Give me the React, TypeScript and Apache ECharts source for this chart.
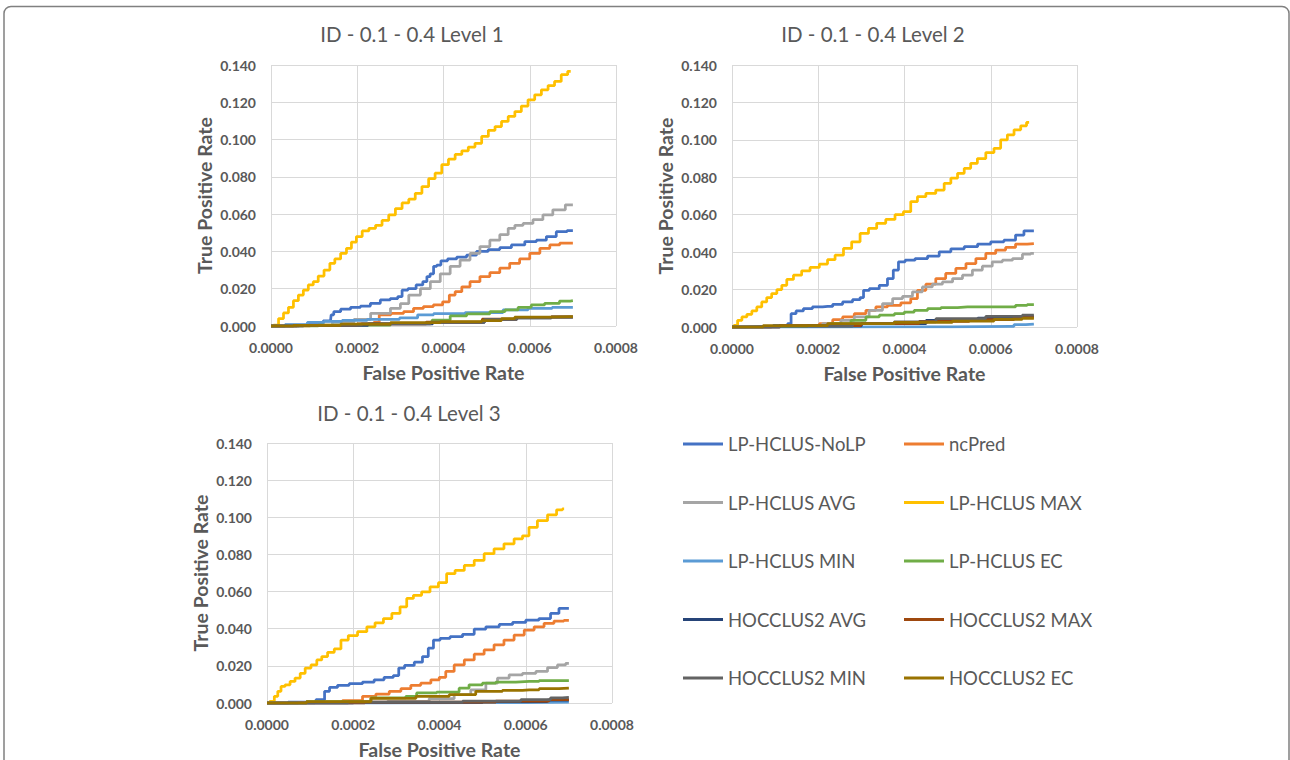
import React, { useEffect, useRef } from "react";
import * as echarts from "echarts";

// False positive rate values are stored in units of 1e-4
const FPR_UNIT = 1e-4;

const SERIES_NAMES = [
  "LP-HCLUS-NoLP",
  "ncPred",
  "LP-HCLUS AVG",
  "LP-HCLUS MAX",
  "LP-HCLUS MIN",
  "LP-HCLUS EC",
  "HOCCLUS2 AVG",
  "HOCCLUS2 MAX",
  "HOCCLUS2 MIN",
  "HOCCLUS2 EC",
];
const SERIES_COLORS = [
  "#4472C4",
  "#ED7D31",
  "#A5A5A5",
  "#FFC000",
  "#5B9BD5",
  "#70AD47",
  "#264478",
  "#9E480E",
  "#636363",
  "#997300",
];
const LEGEND_LEFT = ["LP-HCLUS-NoLP", "LP-HCLUS AVG", "LP-HCLUS MIN", "HOCCLUS2 AVG", "HOCCLUS2 MIN"];
const LEGEND_RIGHT = ["ncPred", "LP-HCLUS MAX", "LP-HCLUS EC", "HOCCLUS2 MAX", "HOCCLUS2 EC"];

const TITLES = ["ID - 0.1 - 0.4 Level 1", "ID - 0.1 - 0.4 Level 2", "ID - 0.1 - 0.4 Level 3"];
const X_NAME = "False Positive Rate";
const Y_NAME = "True Positive Rate";
const X_TICKS = [0, 0.0002, 0.0004, 0.0006, 0.0008];
const Y_TICKS = [0, 0.02, 0.04, 0.06, 0.08, 0.1, 0.12, 0.14];

// ---------- Level 1 ----------
const L1_NOLP = [[0,0],[0.65,0.0005],[1.04,0.0014],[1.38,0.0027],[1.41,0.006],[1.5,0.0077],[1.73,0.009],[1.96,0.010],[2.19,0.0107],[2.42,0.0122],[2.65,0.014],[2.88,0.0147],[3.0,0.0158],[3.08,0.0193],[3.27,0.020],[3.46,0.022],[3.58,0.0238],[3.65,0.0265],[3.73,0.028],[3.81,0.032],[3.88,0.0327],[4.0,0.035],[4.19,0.036],[4.42,0.0369],[4.65,0.038],[4.88,0.040],[5.19,0.041],[5.42,0.042],[5.73,0.0435],[6.04,0.0453],[6.27,0.046],[6.5,0.048],[6.73,0.0506],[7.0,0.0512]];
const L1_NCPRED = [[0,0],[1.81,0.0005],[2.35,0.001],[2.42,0.002],[2.6,0.006],[2.96,0.0068],[3.19,0.0077],[3.42,0.0095],[3.65,0.0104],[3.88,0.0113],[4.08,0.013],[4.19,0.0166],[4.35,0.0184],[4.5,0.021],[4.73,0.0238],[4.96,0.0265],[5.19,0.0286],[5.42,0.031],[5.65,0.0336],[5.88,0.036],[6.12,0.039],[6.35,0.0417],[6.58,0.0435],[6.81,0.0444],[7.0,0.0444]];
const L1_AVG = [[0,0],[1.04,0.0004],[1.81,0.002],[2.04,0.0036],[2.58,0.0068],[2.96,0.0095],[3.04,0.012],[3.35,0.0166],[3.58,0.020],[3.81,0.0238],[4.04,0.028],[4.27,0.032],[4.5,0.0354],[4.73,0.039],[4.96,0.0426],[5.19,0.046],[5.42,0.049],[5.58,0.0524],[5.73,0.054],[5.96,0.055],[6.19,0.057],[6.42,0.0596],[6.65,0.0623],[7.0,0.065]];
const L1_MAX = [[0,0],[0.12,0.0005],[0.23,0.004],[0.35,0.007],[0.46,0.010],[0.58,0.0136],[0.69,0.0166],[0.81,0.0193],[0.92,0.022],[1.04,0.0238],[1.15,0.0268],[1.31,0.030],[1.42,0.0336],[1.54,0.036],[1.69,0.039],[1.81,0.0417],[1.92,0.045],[2.04,0.048],[2.19,0.051],[2.35,0.0524],[2.5,0.054],[2.65,0.0566],[2.81,0.0596],[2.96,0.063],[3.12,0.066],[3.27,0.068],[3.42,0.0712],[3.58,0.0748],[3.73,0.079],[3.88,0.082],[4.04,0.0865],[4.19,0.0895],[4.35,0.092],[4.5,0.094],[4.65,0.096],[4.81,0.098],[4.96,0.1017],[5.12,0.105],[5.27,0.107],[5.42,0.1097],[5.58,0.1124],[5.73,0.115],[5.88,0.118],[6.04,0.1213],[6.19,0.124],[6.35,0.1267],[6.5,0.129],[6.65,0.1312],[6.81,0.1348],[6.95,0.1366]];
const L1_MIN = [[0,0],[0.65,0.0007],[1.04,0.002],[1.42,0.0025],[1.88,0.003],[2.58,0.0036],[3.38,0.0043],[3.42,0.006],[4.12,0.0066],[4.88,0.0072],[5.88,0.0086],[6.04,0.0095],[7.0,0.010]];
const L1_EC = [[0,0],[2.19,0.0005],[3.35,0.0014],[4.12,0.0032],[4.19,0.0054],[4.88,0.0065],[5.27,0.0077],[5.58,0.0086],[5.88,0.010],[6.19,0.0113],[6.5,0.0122],[6.88,0.0134],[7.0,0.0136]];
const L1_H_AVG = [[0,0],[1.5,0.0004],[3.0,0.0012],[4.5,0.002],[5.4,0.0035],[6.0,0.0043],[7.0,0.0047]];
const L1_H_MAX = [[0,0],[1.2,0.0004],[2.8,0.0012],[4.4,0.0021],[5.4,0.0037],[6.0,0.0045],[7.0,0.0049]];
const L1_H_MIN = [[0,0],[1.3,0.0004],[2.9,0.0011],[4.5,0.002],[5.4,0.0036],[6.0,0.0044],[7.0,0.0048]];
const L1_H_EC = [[0,0],[1.04,0.0004],[2.19,0.001],[3.35,0.0018],[4.5,0.0023],[5.27,0.0029],[5.42,0.004],[5.88,0.0047],[7.0,0.005]];

// ---------- Level 2 ----------
const L2_NOLP = [[0,0],[0.67,0.0003],[1.25,0.0009],[1.33,0.0018],[1.41,0.0071],[1.56,0.0086],[1.75,0.0098],[1.98,0.0107],[2.22,0.011],[2.45,0.0121],[2.68,0.0134],[2.91,0.0146],[3.03,0.0157],[3.07,0.0196],[3.3,0.0205],[3.53,0.0223],[3.68,0.0259],[3.8,0.0304],[3.92,0.0348],[4.11,0.0357],[4.38,0.0366],[4.69,0.0379],[4.92,0.0402],[5.23,0.0418],[5.54,0.0429],[5.85,0.0443],[6.15,0.0455],[6.46,0.0464],[6.69,0.0491],[6.85,0.0514],[7.0,0.0514]];
const L2_NCPRED = [[0,0],[1.83,0.0004],[2.22,0.0018],[2.45,0.0039],[2.68,0.0054],[2.99,0.0071],[3.22,0.0089],[3.45,0.0107],[3.76,0.0116],[4.07,0.0129],[4.22,0.0152],[4.38,0.0196],[4.61,0.0229],[4.84,0.0259],[5.07,0.0286],[5.31,0.0313],[5.54,0.0339],[5.77,0.0366],[6.0,0.0393],[6.23,0.0411],[6.46,0.0425],[6.69,0.0443],[7.0,0.0446]];
const L2_AVG = [[0,0],[1.83,0.0004],[2.37,0.0018],[2.68,0.0036],[2.99,0.0054],[3.37,0.0089],[3.61,0.0125],[3.84,0.0152],[4.07,0.0164],[4.3,0.0188],[4.53,0.0214],[4.76,0.0229],[5.0,0.0241],[5.23,0.0259],[5.46,0.0277],[5.69,0.0304],[5.92,0.0325],[6.15,0.0348],[6.39,0.0357],[6.62,0.0366],[6.85,0.0389],[7.0,0.0393]];
const L2_MAX = [[0,0],[0.09,0.0009],[0.17,0.0036],[0.29,0.0054],[0.4,0.0068],[0.52,0.0086],[0.63,0.0107],[0.75,0.0134],[0.86,0.0157],[0.98,0.0179],[1.1,0.020],[1.21,0.0223],[1.33,0.0254],[1.52,0.0277],[1.71,0.030],[1.91,0.0318],[2.14,0.0336],[2.29,0.036],[2.49,0.0384],[2.68,0.042],[2.87,0.0455],[3.07,0.050],[3.26,0.0527],[3.45,0.0554],[3.68,0.0575],[3.88,0.060],[4.07,0.0616],[4.22,0.067],[4.38,0.0696],[4.61,0.0714],[4.84,0.0732],[5.0,0.0768],[5.15,0.0795],[5.31,0.0821],[5.46,0.0848],[5.61,0.0875],[5.77,0.090],[6.0,0.0932],[6.15,0.0955],[6.31,0.100],[6.46,0.1027],[6.62,0.1054],[6.77,0.1075],[6.89,0.1093]];
const L2_MIN = [[0,0],[3.76,0.0001],[6.46,0.0004],[6.62,0.0013],[7.0,0.0016]];
const L2_EC = [[0,0],[1.44,0.0003],[2.06,0.0009],[2.53,0.0018],[2.99,0.0036],[3.22,0.0054],[3.61,0.0063],[3.92,0.0071],[4.07,0.008],[4.38,0.0089],[4.69,0.0098],[5.0,0.0104],[5.46,0.0107],[6.46,0.0107],[6.69,0.0116],[7.0,0.012]];
const L2_H_AVG = [[0,0],[2.2,0.0006],[3.8,0.0018],[5.2,0.0035],[6.2,0.0048],[7.0,0.0055]];
const L2_H_MAX = [[0,0],[2.22,0.0008],[3.76,0.0018],[4.92,0.003],[6.08,0.004],[7.0,0.0052]];
const L2_H_MIN = [[0,0],[2.22,0.0005],[3.37,0.0018],[4.15,0.0027],[5.31,0.0045],[6.46,0.0057],[7.0,0.0063]];
const L2_H_EC = [[0,0],[1.44,0.0007],[2.99,0.0018],[4.53,0.0025],[5.69,0.0032],[6.46,0.0041],[7.0,0.0046]];

// ---------- Level 3 ----------
const L3_NOLP = [[0,0],[0.98,0.0005],[1.29,0.0018],[1.38,0.0063],[1.52,0.0084],[1.75,0.0095],[2.06,0.0104],[2.37,0.0113],[2.6,0.0125],[2.83,0.0138],[3.03,0.0148],[3.08,0.0188],[3.3,0.0202],[3.53,0.022],[3.68,0.025],[3.8,0.0295],[3.92,0.0339],[4.11,0.0348],[4.38,0.0357],[4.69,0.037],[4.92,0.0398],[5.23,0.041],[5.54,0.0423],[5.85,0.0434],[6.15,0.0446],[6.46,0.0455],[6.69,0.0482],[6.85,0.0509],[7.0,0.0509]];
const L3_NCPRED = [[0,0],[1.44,0.0004],[2.06,0.0013],[2.37,0.0036],[2.68,0.0048],[2.99,0.0063],[3.22,0.0077],[3.45,0.0095],[3.68,0.0107],[3.92,0.0125],[4.07,0.0138],[4.22,0.017],[4.46,0.0205],[4.69,0.0232],[4.92,0.0263],[5.15,0.0286],[5.38,0.0313],[5.61,0.0339],[5.85,0.0366],[6.08,0.0393],[6.31,0.041],[6.54,0.0429],[6.77,0.0441],[7.0,0.0445]];
const L3_AVG = [[0,0],[2.22,0.0004],[3.37,0.0009],[4.15,0.0023],[4.53,0.0045],[4.92,0.0071],[5.23,0.0107],[5.46,0.0134],[5.77,0.0152],[6.08,0.016],[6.39,0.017],[6.62,0.0191],[6.85,0.0205],[7.0,0.0213]];
const L3_MAX = [[0,0],[0.13,0.0009],[0.21,0.0036],[0.29,0.0063],[0.36,0.0089],[0.48,0.0098],[0.59,0.0116],[0.71,0.0134],[0.83,0.016],[0.94,0.0188],[1.1,0.0205],[1.21,0.0232],[1.33,0.025],[1.48,0.0273],[1.64,0.0291],[1.79,0.0339],[1.98,0.0363],[2.22,0.0384],[2.41,0.041],[2.6,0.0432],[2.8,0.0455],[2.99,0.0482],[3.18,0.0518],[3.3,0.0563],[3.49,0.058],[3.68,0.0598],[3.88,0.0625],[4.07,0.0648],[4.26,0.0696],[4.46,0.0714],[4.69,0.0741],[4.92,0.0768],[5.15,0.0804],[5.38,0.083],[5.61,0.0857],[5.85,0.0884],[6.0,0.090],[6.15,0.0946],[6.39,0.0982],[6.62,0.1013],[6.81,0.104],[6.89,0.1045]];
const L3_MIN = [[0,0],[5.0,0.0002],[7.0,0.0005]];
const L3_EC = [[0,0],[1.83,0.0007],[2.99,0.0027],[3.45,0.0036],[3.49,0.0054],[4.38,0.0059],[4.53,0.008],[4.84,0.0098],[5.15,0.0107],[5.46,0.0113],[6.08,0.0116],[6.54,0.0121],[7.0,0.0121]];
const L3_H_AVG = [[0,0],[4.0,0.0004],[6.0,0.0008],[7.0,0.0015]];
const L3_H_MAX = [[0,0],[4.53,0.0005],[6.08,0.001],[7.0,0.0018]];
const L3_H_MIN = [[0,0],[3.76,0.0005],[5.31,0.001],[6.46,0.0018],[6.69,0.0028],[7.0,0.003]];
const L3_H_EC = [[0,0],[1.83,0.0007],[2.99,0.0025],[3.92,0.0036],[4.53,0.0045],[5.15,0.0063],[5.77,0.0068],[6.08,0.0071],[6.54,0.0077],[7.0,0.008]];

const LEVELS = [
  [L1_NOLP, L1_NCPRED, L1_AVG, L1_MAX, L1_MIN, L1_EC, L1_H_AVG, L1_H_MAX, L1_H_MIN, L1_H_EC],
  [L2_NOLP, L2_NCPRED, L2_AVG, L2_MAX, L2_MIN, L2_EC, L2_H_AVG, L2_H_MAX, L2_H_MIN, L2_H_EC],
  [L3_NOLP, L3_NCPRED, L3_AVG, L3_MAX, L3_MIN, L3_EC, L3_H_AVG, L3_H_MAX, L3_H_MIN, L3_H_EC],
];

const FONT = "Lato, 'Open Sans', sans-serif";
const TEXT_COLOR = "#595959";
const GRID_COLOR = "#d9d9d9";

const GRIDS = [
  { left: 271, top: 65, width: 345, height: 261 },
  { left: 732, top: 65, width: 345, height: 262 },
  { left: 267, top: 443, width: 345, height: 262 },
];
const TITLE_POS = [
  [412, 34],
  [873, 34],
  [409, 413],
];

export default function App() {
  const ref = useRef<HTMLDivElement>(null);
  useEffect(() => {
    if (!ref.current) return;
    const chart = echarts.init(ref.current, undefined, { renderer: "svg" });

    const xAxes = GRIDS.map((_, i) => ({
      type: "value",
      gridIndex: i,
      min: X_TICKS[0],
      max: X_TICKS[X_TICKS.length - 1],
      interval: X_TICKS[1] - X_TICKS[0],
      name: X_NAME,
      nameLocation: "middle",
      nameGap: 36,
      nameTextStyle: { fontFamily: FONT, fontSize: 19.5, fontWeight: "bold", color: TEXT_COLOR },
      axisLine: { show: false },
      axisTick: { show: false },
      axisLabel: {
        fontFamily: FONT,
        fontSize: 14,
        fontWeight: "bold",
        color: TEXT_COLOR,
        margin: 14,
        formatter: (v: number) => v.toFixed(4),
      },
      splitLine: { show: true, lineStyle: { color: GRID_COLOR, width: 1 } },
    }));
    const yAxes = GRIDS.map((_, i) => ({
      type: "value",
      gridIndex: i,
      min: Y_TICKS[0],
      max: Y_TICKS[Y_TICKS.length - 1],
      interval: Y_TICKS[1] - Y_TICKS[0],
      name: Y_NAME,
      nameLocation: "middle",
      nameGap: 57,
      nameTextStyle: { fontFamily: FONT, fontSize: 19.5, fontWeight: "bold", color: TEXT_COLOR },
      axisLine: { show: false },
      axisTick: { show: false },
      axisLabel: {
        fontFamily: FONT,
        fontSize: 14,
        fontWeight: "bold",
        color: TEXT_COLOR,
        margin: 15,
        formatter: (v: number) => v.toFixed(3),
      },
      splitLine: { show: true, lineStyle: { color: GRID_COLOR, width: 1 } },
    }));

    const series: any[] = [];
    LEVELS.forEach((level, gi) => {
      level.forEach((pts, si) => {
        series.push({
          type: "line",
          name: SERIES_NAMES[si],
          xAxisIndex: gi,
          yAxisIndex: gi,
          data: pts.map(([x, y]) => [x * FPR_UNIT, y]),
          step: "middle",
          showSymbol: false,
          symbol: "none",
          color: SERIES_COLORS[si],
          lineStyle: { width: 2.75, color: SERIES_COLORS[si] },
          z: 2 + si * 0.01,
        });
      });
    });

    const legendCommon = {
      orient: "vertical",
      top: 434,
      padding: 0,
      icon: "rect",
      itemWidth: 40,
      itemHeight: 3,
      itemGap: 38.5,
      selectedMode: false,
      textStyle: { fontFamily: FONT, fontSize: 18.5, color: TEXT_COLOR, lineHeight: 20 },
    };

    chart.setOption({
      animation: false,
      backgroundColor: "#ffffff",
      grid: GRIDS.map((g) => ({ ...g, containLabel: false })),
      xAxis: xAxes,
      yAxis: yAxes,
      legend: [
        { ...legendCommon, left: 683, data: LEGEND_LEFT },
        { ...legendCommon, left: 904, data: LEGEND_RIGHT },
      ],
      graphic: [
        {
          type: "rect",
          shape: { x: 4, y: 6.5, width: 1285, height: 790, r: 7 },
          style: { fill: "none", stroke: "#808080", lineWidth: 1.5 },
          silent: true,
        },
        ...TITLES.map((t, i) => ({
          type: "text",
          x: TITLE_POS[i][0],
          y: TITLE_POS[i][1],
          style: {
            text: t,
            fontFamily: FONT,
            fontSize: 20.5,
            fill: TEXT_COLOR,
            textAlign: "center",
            textVerticalAlign: "middle",
          },
        })),
      ],
      series,
    });
    return () => chart.dispose();
  }, []);
  return (
    <div
      ref={ref}
      style={{ position: "absolute", left: 0, top: 0, width: 1290, height: 760 }}
    />
  );
}
